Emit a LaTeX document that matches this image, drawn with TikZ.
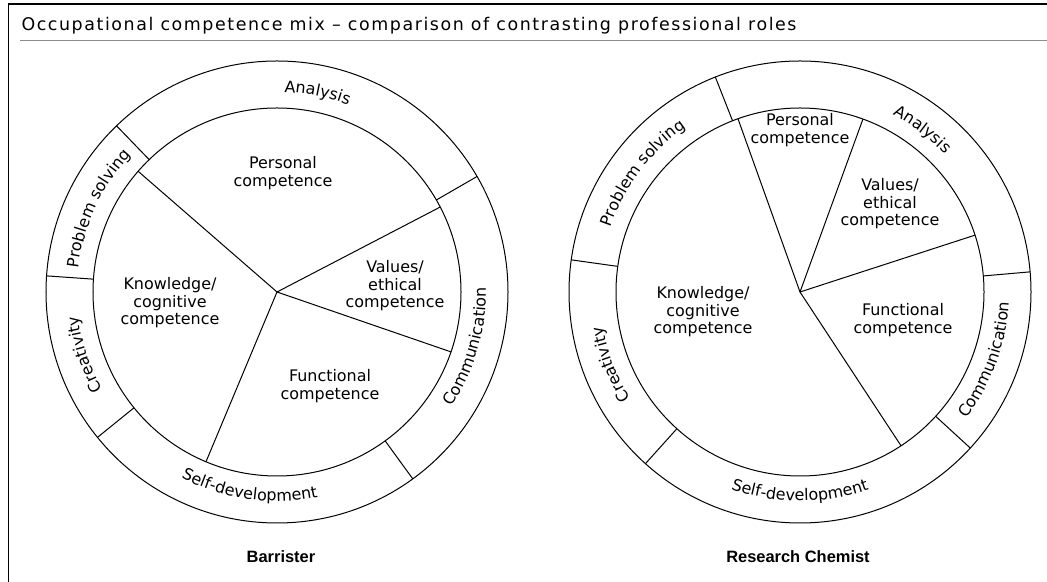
\documentclass[tikz,border=0pt]{standalone}
\usepackage{fontspec}
\setmainfont{DejaVu Sans}
\newfontfamily\rolefont{Liberation Sans}
\newfontfamily\titlefont[LetterSpace=9]{DejaVu Sans}
\usetikzlibrary{decorations.text}

\newcommand{\ringfont}{\fontsize{16}{18}\selectfont}
% ring labels: clockwise on top/left, anticlockwise on bottom/right
\newcommand{\cwlabel}[3]{\path[decorate,decoration={text along path,text align=center,text={|\ringfont|#3}}]
  (#1) ++({#2+50}:200) arc[start angle={#2+50},end angle={#2-50},radius=200bp];}
\newcommand{\ccwlabel}[3]{\path[decorate,decoration={text along path,text align=center,text={|\ringfont|#3}}]
  (#1) ++({#2-50}:209) arc[start angle={#2-50},end angle={#2+50},radius=209bp];}

\begin{document}
\begin{tikzpicture}[x=1bp,y=1bp,line width=1bp,
  comp/.style={align=center,inner sep=0pt,font=\fontsize{16}{17.5}\selectfont},
  role/.style={font=\rolefont\bfseries\fontsize{16.5}{18}\selectfont}]
\useasboundingbox (0,0) rectangle (1047,582);

% frame and title
\draw[line width=1.6bp] (8.5,0) -- (8.5,578) -- (1047,578);
\draw[black!45] (20,541) -- (1047,541);
\node[anchor=base west,inner sep=0pt,font=\titlefont\fontsize{17.5}{20}\selectfont] (title) at (21,551.5)
  {Occupational competence mix – comparison of contrasting professional roles};

% Barrister
\coordinate (barr) at (277,290);
\draw (barr) circle[radius=231bp] (barr) circle[radius=184bp];
\foreach \a in {27.5,139,247.3,341} \draw (barr) -- ++(\a:184);
\foreach \a in {30,134,176,219,306} \draw (barr) ++(\a:184) -- ++(\a:47);

\node[comp] (barr-pers) at (283,409) {Personal\\competence};
\node[comp] (barr-know) at (170,279) {Knowledge/\\cognitive\\competence};
\node[comp] (barr-val) at (395,296) {Values/\\ethical\\competence};
\node[comp] (barr-func) at (330,196) {Functional\\competence};

\cwlabel{barr}{78.5}{Analysis}
\cwlabel{barr}{155}{Problem solving}
\cwlabel{barr}{198}{Creativity}
\ccwlabel{barr}{262}{Self-development}
\ccwlabel{barr}{344}{Communication}

\node[role] (barr-role) at (281,25) {Barrister};

% Research chemist
\coordinate (chem) at (800,290);
\draw (chem) circle[radius=231bp] (chem) circle[radius=184bp];
\foreach \a in {18,70,109.7,303.3} \draw (chem) -- ++(\a:184);
\foreach \a in {5,111.5,172,228,317.5} \draw (chem) ++(\a:184) -- ++(\a:47);

\node[comp] (chem-pers) at (800,452) {Personal\\competence};
\node[comp] (chem-val) at (890,378) {Values/\\ethical\\competence};
\node[comp] (chem-know) at (703,270) {Knowledge/\\cognitive\\competence};
\node[comp] (chem-func) at (903,262) {Functional\\competence};

\cwlabel{chem}{53}{Analysis}
\cwlabel{chem}{143}{Problem solving}
\cwlabel{chem}{201}{Creativity}
\ccwlabel{chem}{270}{Self-development}
\ccwlabel{chem}{340}{Communication}

\node[role] (chem-role) at (798,25) {Research Chemist};
\end{tikzpicture}
\end{document}
